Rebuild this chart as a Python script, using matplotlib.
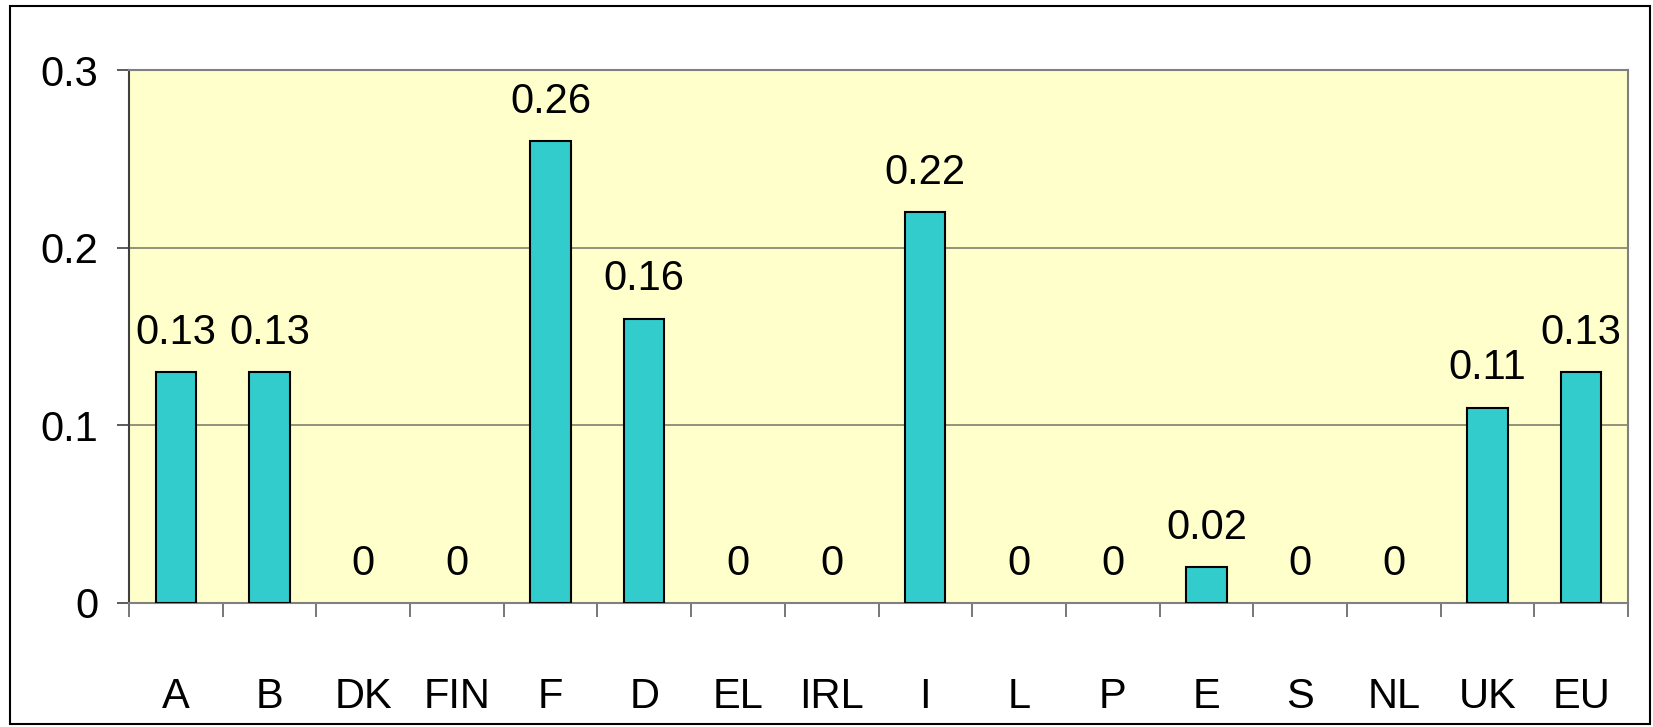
import matplotlib
matplotlib.use("Agg")
import matplotlib.pyplot as plt
import numpy as np
from matplotlib.patches import Rectangle

countries = ["A", "B", "DK", "FIN", "F", "D", "EL", "IRL", "I", "L", "P", "E", "S", "NL", "UK", "EU"]
values = [0.13, 0.13, 0, 0, 0.26, 0.16, 0, 0, 0.22, 0, 0, 0.02, 0, 0, 0.11, 0.13]
yticks = [0, 0.1, 0.2, 0.3]
ylabels = ["0", "0.1", "0.2", "0.3"]

plt.rcParams["font.family"] = ["Liberation Sans", "DejaVu Sans"]
fs = 30

fig = plt.figure(figsize=(16.53, 7.27), dpi=100)
ax = fig.add_axes([129/1653, 1-603/727, (1628-129)/1653, (603-70)/727])
ax.set_facecolor("#FFFFCC")

x = np.arange(len(countries))
edges = ["black" if v > 0 else "none" for v in values]
ax.bar(x, values, width=0.43, color="#33CCCC", edgecolor=edges, linewidth=1.5, zorder=3)
for xi, v in zip(x, values):
    ax.annotate("%g" % v, (xi, v), xytext=(0, 14), textcoords="offset points",
                ha="center", va="bottom", fontsize=fs)

ax.set_xlim(-0.5, len(countries) - 0.5)
ax.set_ylim(0, 0.3)
ax.set_yticks(yticks)
ax.set_yticklabels(ylabels, fontsize=fs)
ax.yaxis.grid(True, color="#808070", linewidth=1.2, zorder=1)
ax.set_axisbelow(True)
ax.tick_params(axis="y", length=9, width=1.2, pad=13, color="#404040")

ax.set_xticks(x)
ax.set_xticklabels(countries, fontsize=fs)
ax.tick_params(axis="x", which="major", length=0, pad=53)
ax.set_xticks(np.arange(-0.5, len(countries)), minor=True)
ax.tick_params(axis="x", which="minor", length=10, width=1.2, color="#606060")

ax.spines["left"].set_color("#404040")
ax.spines["left"].set_linewidth(1.5)
for s in ["top", "right", "bottom"]:
    ax.spines[s].set_color("#808080")
    ax.spines[s].set_linewidth(1.5)

fig.patches.append(Rectangle((10/1653, 3/727), 1640/1653, 718/727, transform=fig.transFigure,
                             fill=False, edgecolor="black", linewidth=1.5))

fig.savefig("out.png", dpi=100)
